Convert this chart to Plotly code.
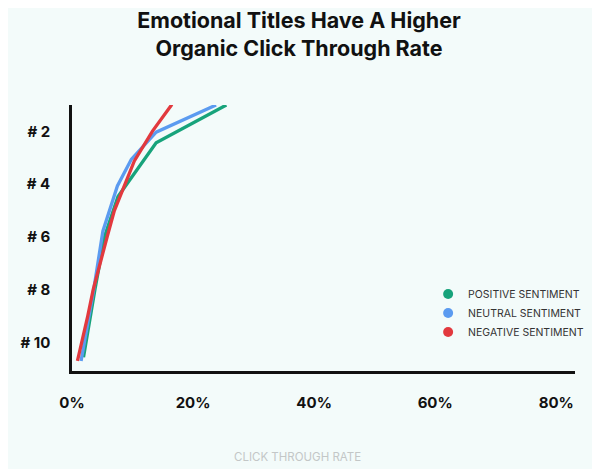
import plotly.graph_objects as go

# CTR (%), with the ranking position at each vertex
positive_rank = [1.0, 2.43, 4.47, 5.97, 7.98, 10.56]
positive_ctr = [25.5, 13.9, 7.6, 5.4, 3.8, 1.9]

neutral_rank = [1.0, 2.03, 3.06, 4.07, 5.78, 7.98, 10.7]
neutral_ctr = [23.8, 13.9, 9.8, 7.5, 5.1, 3.6, 1.5]

negative_rank = [0.98, 1.99, 3.12, 4.0, 5.0, 6.0, 7.0, 8.0, 9.0, 10.0, 10.7]
negative_ctr = [16.5, 13.3, 10.3, 8.7, 7.0, 5.8, 4.6, 3.5, 2.6, 1.6, 0.9]

series_names = ["POSITIVE SENTIMENT", "NEUTRAL SENTIMENT", "NEGATIVE SENTIMENT"]
colors = ["#17a37b", "#5b9bf0", "#e2393e"]

x_ticks = [0, 20, 40, 60, 80]
x_labels = ["0%", "20%", "40%", "60%", "80%"]
y_ticks = [2, 4, 6, 8, 10]
y_labels = ["# 2", "# 4", "# 6", "# 8", "# 10"]

fig = go.Figure()

series = [
    (positive_ctr, positive_rank),
    (neutral_ctr, neutral_rank),
    (negative_ctr, negative_rank),
]
for (xs, ys), name, c in zip(series, series_names, colors):
    fig.add_trace(go.Scatter(
        x=xs, y=ys, mode="lines", name=name,
        line=dict(color=c, width=3.3), showlegend=False,
    ))

# dot markers for the legend only
for name, c in zip(series_names, colors):
    fig.add_trace(go.Scatter(
        x=[None], y=[None], mode="markers", name=name,
        marker=dict(color=c, size=10),
    ))

# page body adds a few px of margin, so the margins are pulled in a bit
fig.update_layout(
    width=600, height=469,
    paper_bgcolor="#f3fbfa",
    plot_bgcolor="#f3fbfa",
    font=dict(family="Inter", color="#111111"),
    margin=dict(l=56, r=33, t=97, b=106),
    title=dict(
        text="Emotional Titles Have A Higher<br>Organic Click Through Rate",
        x=0.485, xanchor="center", y=0.957, yanchor="top",
        font=dict(size=21.5, family="Inter", weight=700, color="#111111"),
    ),
    showlegend=True,
    legend=dict(
        x=0.708, y=0.344, xanchor="left", yanchor="top",
        bgcolor="rgba(0,0,0,0)",
        font=dict(size=10.5, color="#333333"),
        itemwidth=30, tracegroupgap=0,
    ),
)

fig.update_xaxes(
    range=[0, 83.1],
    tickvals=x_ticks, ticktext=x_labels,
    showgrid=False, zeroline=False,
    showline=True, linecolor="#111111", linewidth=2.5,
    ticks="outside", ticklen=0, ticklabelstandoff=16,
    tickfont=dict(size=15, weight=700, color="#111111"),
)
fig.update_yaxes(
    range=[11.08, 1.0],
    tickvals=y_ticks, ticktext=y_labels,
    showgrid=False, zeroline=False,
    showline=True, linecolor="#111111", linewidth=2.5,
    ticks="outside", ticklen=0, ticklabelstandoff=16,
    tickfont=dict(size=15, weight=700, color="#111111"),
)

fig.add_annotation(
    text="CLICK THROUGH RATE",
    xref="paper", yref="paper", x=0.4478, y=-0.358,
    showarrow=False,
    font=dict(size=11.5, color="#c3c7c7"),
)

fig.write_html("out.html")
